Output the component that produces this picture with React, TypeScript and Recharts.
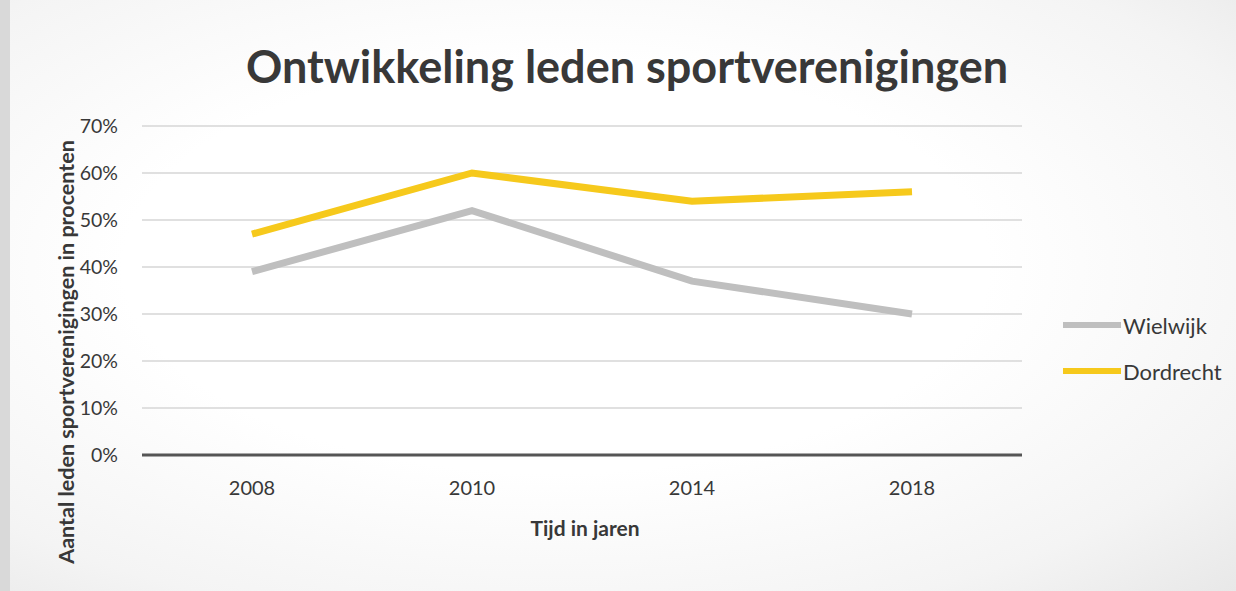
import { LineChart, Line, XAxis, YAxis, CartesianGrid } from 'recharts'

const years = ['2008', '2010', '2014', '2018']
const wielwijk = [0.39, 0.52, 0.37, 0.3]
const dordrecht = [0.47, 0.6, 0.54, 0.56]
const yTicks = [0, 0.1, 0.2, 0.3, 0.4, 0.5, 0.6, 0.7]
const seriesNames = ['Wielwijk', 'Dordrecht']

const FONT = 'Lato, "Open Sans", sans-serif'
const GREY = '#bfbfbf'
const YELLOW = '#f6c91c'
const COLORS = [GREY, YELLOW]
const TEXT = '#383838'

const data = years.map((y, i) => ({ year: y, Wielwijk: wielwijk[i], Dordrecht: dordrecht[i] }))

export default function App() {
    return (
        <div style={{
            position: 'absolute', left: 0, top: 0, width: 1236, height: 591, overflow: 'hidden',
            background: 'radial-gradient(ellipse at 45% 45%, #ffffff 45%, #f4f4f4 80%, #e8e8e8 100%)',
        }}>
            <div style={{ position: 'absolute', left: 0, top: 0, width: 10, height: 591, background: '#d9d9d9' }} />
            <div style={{
                position: 'absolute', left: 627, top: 66, transform: 'translate(-50%, -50%)', whiteSpace: 'nowrap',
                fontFamily: FONT, fontWeight: 700, fontSize: 45, color: TEXT,
            }}>
                Ontwikkeling leden sportverenigingen
            </div>
            <div style={{
                position: 'absolute', left: 66, top: 352, transform: 'translate(-50%, -50%) rotate(-90deg)',
                whiteSpace: 'nowrap', fontFamily: FONT, fontWeight: 700, fontSize: 21.5, color: TEXT,
            }}>
                Aantal leden sportverenigingen in procenten
            </div>
            <div style={{
                position: 'absolute', left: 585, top: 527, transform: 'translate(-50%, -50%)',
                whiteSpace: 'nowrap', fontFamily: FONT, fontWeight: 700, fontSize: 21, color: TEXT,
            }}>
                Tijd in jaren
            </div>
            <div style={{ position: 'absolute', left: 1063, top: 302, fontFamily: FONT, fontSize: 22, color: TEXT }}>
                {seriesNames.map((n, i) => (
                    <div key={n} style={{ display: 'flex', alignItems: 'center', height: 46 }}>
                        <span style={{ display: 'inline-block', width: 58, height: 6, background: COLORS[i], marginRight: 2 }} />
                        <span>{n}</span>
                    </div>
                ))}
            </div>
            <LineChart
                width={1236}
                height={591}
                data={data}
                margin={{ top: 126, right: 214, left: 82, bottom: 96 }}
                style={{ position: 'absolute', left: 0, top: 0 }}
            >
                <CartesianGrid vertical={false} stroke="#d6d6d6" strokeWidth={1.5} />
                <XAxis
                    dataKey="year"
                    padding={{ left: 110, right: 110 }}
                    axisLine={{ stroke: '#555', strokeWidth: 3 }}
                    tickLine={false}
                    tickMargin={20}
                    height={40}
                    tick={{ fontFamily: FONT, fontSize: 20, fill: TEXT }}
                />
                <YAxis
                    width={60}
                    domain={[0, 0.7]}
                    ticks={yTicks}
                    axisLine={false}
                    tickLine={false}
                    tickMargin={18}
                    tickFormatter={(v: number) => `${Math.round(v * 100)}%`}
                    tick={{ fontFamily: FONT, fontSize: 19.5, fill: TEXT }}
                />
                <Line dataKey="Wielwijk" stroke={GREY} strokeWidth={7} dot={false} isAnimationActive={false} />
                <Line dataKey="Dordrecht" stroke={YELLOW} strokeWidth={7} dot={false} isAnimationActive={false} />
            </LineChart>
        </div>
    )
}
